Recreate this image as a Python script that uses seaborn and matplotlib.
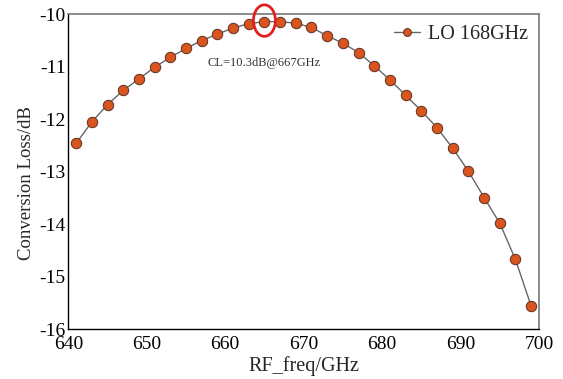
import numpy as np
import pandas as pd
import seaborn as sns
import matplotlib
matplotlib.use("Agg")
import matplotlib.pyplot as plt
from matplotlib.patches import Ellipse

rf_freq = [641, 643, 645, 647, 649, 651, 653, 655, 657, 659,
           661, 663, 665, 667, 669, 671, 673, 675, 677, 679,
           681, 683, 685, 687, 689, 691, 693, 695, 697, 699]
conv_loss = [-12.46, -12.05, -11.72, -11.45, -11.23, -11.01, -10.82, -10.65, -10.50, -10.38,
             -10.26, -10.18, -10.14, -10.14, -10.17, -10.25, -10.41, -10.55, -10.73, -10.98,
             -11.25, -11.54, -11.84, -12.16, -12.55, -12.99, -13.49, -13.98, -14.67, -15.56]
series_label = "LO 168GHz"
x_ticks = [640, 650, 660, 670, 680, 690, 700]
y_ticks = [-10, -11, -12, -13, -14, -15, -16]
annotation = "CL=10.3dB@667GHz"

sns.set_style("white")
plt.rcParams['font.family'] = ['Liberation Serif', 'DejaVu Serif']
plt.rcParams['axes.unicode_minus'] = False

df = pd.DataFrame({"RF": rf_freq, "CL": conv_loss, "series": series_label})

fig = plt.figure(figsize=(5.63, 3.79), dpi=100)
ax = fig.add_axes([0.1213, 0.1311, 0.8361, 0.8312])

sns.lineplot(data=df, x="RF", y="CL", hue="series", palette=["#666666"],
             marker="o", markersize=7.5, markerfacecolor="#D9541E",
             markeredgecolor="#5a3020", markeredgewidth=0.7,
             linewidth=1.0, ax=ax)

ax.set_xlim(640, 700)
ax.set_ylim(-16, -10)
ax.set_xticks(x_ticks)
ax.set_yticks(y_ticks)
ax.set_xticklabels([str(t) for t in x_ticks])
ax.set_yticklabels([str(t) for t in y_ticks])
ax.tick_params(direction="in", length=4, width=0.8, labelsize=14, colors="black")
ax.tick_params(axis="y", pad=2)
ax.tick_params(axis="x", pad=5)
ax.set_xlabel("RF_freq/GHz", fontsize=14.5, labelpad=2)
ax.set_ylabel("Conversion Loss/dB", fontsize=13.5)
ax.yaxis.set_label_coords(-0.07, 0.465)

for side in ["left", "bottom"]:
    ax.spines[side].set_color("black")
    ax.spines[side].set_linewidth(1.0)
for side in ["top", "right"]:
    ax.spines[side].set_color("#777777")
    ax.spines[side].set_linewidth(1.2)

ax.text(665, -10.93, annotation, fontsize=9, color="#333333", ha="center", va="center")

ell = Ellipse((665, -10.12), width=2.8, height=0.6, fill=False, edgecolor="#E02020",
              linewidth=2, clip_on=False, zorder=5)
ax.add_patch(ell)

leg = ax.legend(loc="upper right", frameon=False, fontsize=14.5, handlelength=1.3,
                handletextpad=0.4, borderaxespad=0.15, markerscale=0.75)

fig.savefig("out.png", dpi=100)
